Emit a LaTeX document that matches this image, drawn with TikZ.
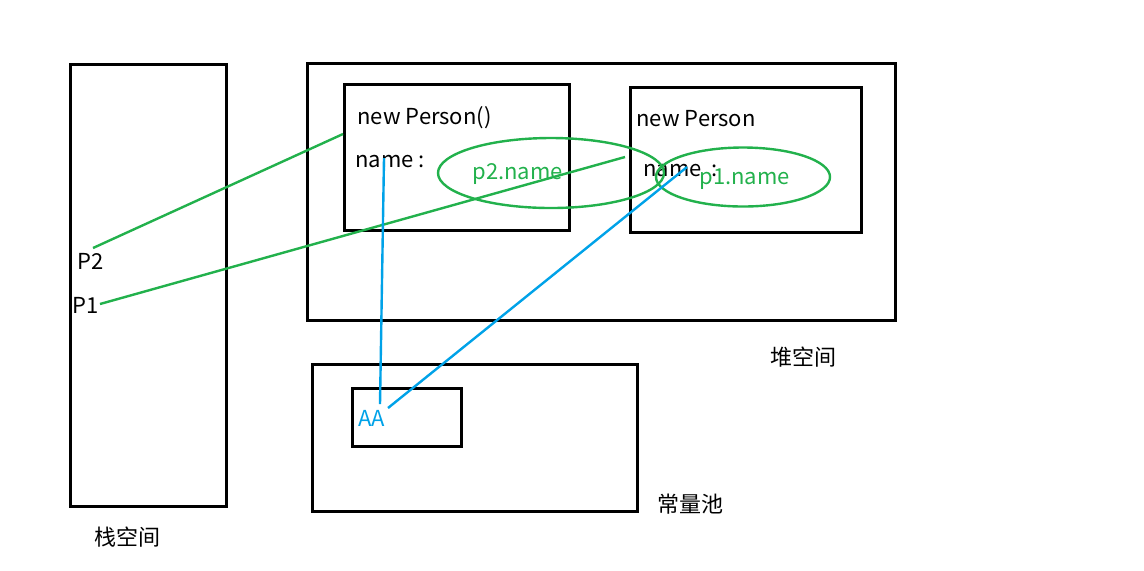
\documentclass[tikz,border=0pt]{standalone}
\usepackage{fontspec}
\setmainfont{Noto Sans CJK SC}
\usepackage{xcolor}
\usetikzlibrary{shapes.geometric}
\definecolor{PaintGreen}{HTML}{22B14C}
\definecolor{PaintBlue}{HTML}{00A2E8}

\begin{document}
\begin{tikzpicture}[
      x=0.5pt, y=-0.5pt,
      every node/.style={font=\fontsize{11}{13}\selectfont},
      box/.style={draw=black, line width=1.5pt, inner sep=0pt, outer sep=0pt},
      txt/.style={anchor=west, inner sep=0pt},
      ring/.style={draw=PaintGreen, ellipse, line width=1.2pt, inner sep=0pt},
      ref/.style={draw=PaintGreen, line width=1.2pt},
      val/.style={draw=PaintBlue, line width=1.2pt}
    ]
    \useasboundingbox (0,0) rectangle (1144,570);

    % memory areas
    \node[box, minimum width=78pt, minimum height=221pt] (stack) at (148,285) {};
    \node[box, minimum width=294pt, minimum height=128.5pt] (heap) at (601,191.5) {};
    \node[box, minimum width=162.5pt, minimum height=73.5pt] (pool) at (474.5,437.5) {};
    \node (stacklbl) at (127,537) {栈空间};
    \node (heaplbl) at (803,357) {堆空间};
    \node (poollbl) at (690,504) {常量池};

    % objects
    \node[box, minimum width=112.5pt, minimum height=73pt] (obj1) at (456.5,157) {};
    \node[box, minimum width=115.5pt, minimum height=72.5pt] (obj2) at (745.5,159.5) {};
    \node[box, minimum width=54.5pt, minimum height=29pt] (aabox) at (406.5,417) {};
    \node[txt] (new1) at (357,118) {new Person()};
    \node[txt] (name1) at (355,162) {name :};
    \node[txt] (new2) at (636,119) {new Person};
    \node[txt] (name2) at (643,171) {name \ :};
    \node[txt, text=PaintBlue] (aa) at (358,418) {AA};

    % references
    \node[txt] (P2) at (77,261) {P2};
    \node[txt] (P1) at (72,305) {P1};
    \node[ring, minimum width=113pt, minimum height=35pt] (ring2) at (551,173) {};
    \node[ring, minimum width=87pt, minimum height=29.5pt] (ring1) at (743,177) {};
    \node[txt, text=PaintGreen] (p2name) at (472,174) {p2.name};
    \node[txt, text=PaintGreen] (p1name) at (699,179) {p1.name};

    \coordinate (to1) at (343,134);
    \coordinate (to2) at (625,157);
    \coordinate (from2) at (93,248);
    \coordinate (from1) at (100,304);
    \coordinate (v1top) at (384,158);
    \coordinate (v1bot) at (380,404);
    \coordinate (v2top) at (687,167);
    \coordinate (v2bot) at (388,408);

    \draw[ref] (from2) -- (to1);
    \draw[ref] (from1) -- (to2);
    \draw[val] (v1top) -- (v1bot);
    \draw[val] (v2top) -- (v2bot);
  \end{tikzpicture}
\end{document}
